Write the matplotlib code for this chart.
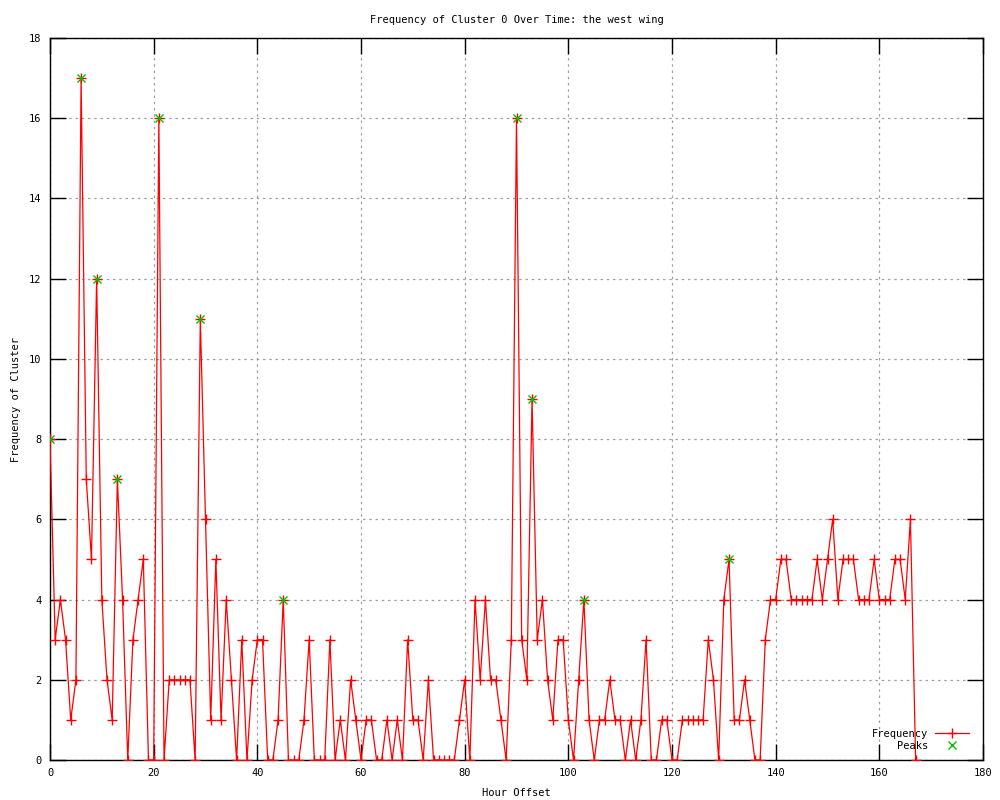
import matplotlib

matplotlib.use('Agg')

import matplotlib.pyplot as plt
import numpy as np

# hourly counts
hours = list(range(168))
frequency = [8, 3, 4, 3, 1, 2, 17, 7, 5, 12, 4, 2, 1, 7, 4, 0, 3, 4, 5, 0,
             0, 16, 0, 2, 2, 2, 2, 2, 0, 11, 6, 1, 5, 1, 4, 2, 0, 3, 0, 2,
             3, 3, 0, 0, 1, 4, 0, 0, 0, 1, 3, 0, 0, 0, 3, 0, 1, 0, 2, 1,
             0, 1, 1, 0, 0, 1, 0, 1, 0, 3, 1, 1, 0, 2, 0, 0, 0, 0, 0, 1,
             2, 0, 4, 2, 4, 2, 2, 1, 0, 3, 16, 3, 2, 9, 3, 4, 2, 1, 3, 3,
             1, 0, 2, 4, 1, 0, 1, 1, 2, 1, 1, 0, 1, 0, 1, 3, 0, 0, 1, 1,
             0, 0, 1, 1, 1, 1, 1, 3, 2, 0, 4, 5, 1, 1, 2, 1, 0, 0, 3, 4,
             4, 5, 5, 4, 4, 4, 4, 4, 5, 4, 5, 6, 4, 5, 5, 5, 4, 4, 4, 5,
             4, 4, 4, 5, 5, 4, 6, 0]

peak_hours = [0, 6, 9, 13, 21, 29, 45, 90, 93, 103, 131]
peak_values = [8, 17, 12, 7, 16, 11, 4, 16, 9, 4, 5]

x_ticks = list(range(0, 181, 20))
y_ticks = list(range(0, 19, 2))

title = 'Frequency of Cluster 0 Over Time: the west wing'

mono = 'DejaVu Sans Mono'
plt.rcParams.update({'font.family': mono,
                     'font.size': 7.5,
                     'xtick.labelsize': 7.5,
                     'ytick.labelsize': 7.5})

fig = plt.figure(figsize=(10, 8), dpi=100)
ax = fig.add_axes([0.050, 0.050, 0.933, 0.9025])

ax.plot(hours, frequency, color='red', lw=0.9, marker='+', markersize=7,
        markeredgewidth=1.0, label='Frequency', zorder=3)
ax.plot(peak_hours, peak_values, ls='none', color='#00c000', marker='x',
        markersize=5.5, markeredgewidth=1.0, label='Peaks', zorder=4)

ax.set_xlim(0, 180)
ax.set_ylim(0, 18)
ax.set_xticks(x_ticks)
ax.set_yticks(y_ticks)
ax.tick_params(direction='in', length=11.5, width=1.0, top=True, right=True,
               color='black', pad=6)
ax.grid(True, color='#a0a0a0', ls=(0, (2, 3)), lw=0.9)
ax.set_axisbelow(True)
for sp in ax.spines.values():
    sp.set_linewidth(1.0)

ax.set_title(title, fontsize=7.5, pad=11)
ax.set_xlabel('Hour Offset', labelpad=7)
ax.set_ylabel('Frequency of Cluster', labelpad=6)

ax.legend(loc='lower right', bbox_to_anchor=(0.995, 0.0), frameon=False,
          markerfirst=False, numpoints=1, handlelength=3.3, handletextpad=0.6,
          labelspacing=0.15, fontsize=7.5)

fig.savefig('out.png', dpi=100)
